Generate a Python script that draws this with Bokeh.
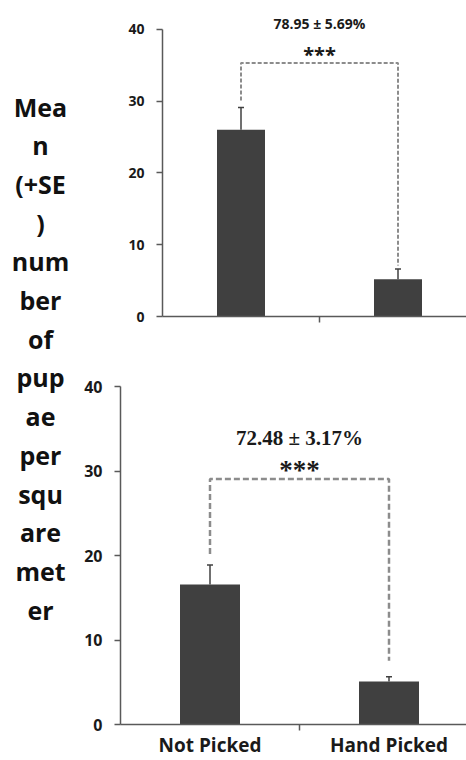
from bokeh.plotting import figure
from bokeh.models import Range1d, FixedTicker, Whisker, TeeHead, ColumnDataSource
from bokeh.layouts import row, column
from bokeh.core.properties import value
from bokeh.embed import file_html
from bokeh.resources import INLINE

# ---------------- data ----------------
categories = ["Not Picked", "Hand Picked"]
cat_pos = [0.5, 1.5]
yticks = [0, 10, 20, 30, 40]

top_means = [26.0, 5.2]
top_se = [3.1, 1.4]
top_bracket_left = 30.1
top_bracket_top = 35.3
top_bracket_right = 7.1
top_pct = "78.95 ± 5.69%"

bot_means = [16.6, 5.1]
bot_se = [2.3, 0.55]
bot_bracket_left = 20.2
bot_bracket_top = 29.1
bot_bracket_right = 7.55
bot_pct = "72.48 ± 3.17%"

sig = "***"
ylabel_lines = ["Mea", "n", "(+SE", ")", "num", "ber", "of", "pup", "ae",
                "per", "squ", "are", "met", "er"]

BAR = "#404040"
AX = "#595959"
DASH = "#8c8c8c"
SANS = "Open Sans"
SERIF = "Liberation Serif"

W = 466
H = 760
LAB_W = 74            # width of the title column
TOP_H = 340           # height of the top chart
TOP_AXIS_X = 162      # y axis x of top chart (page px)
BOT_AXIS_X = 120      # y axis x of bottom chart (page px)


def make_chart(width, height, bl, bt, bb, yend, xend, bar_w, means, se,
               b_left, b_top, b_right, tick_fs, dash, dash_w, labels):
    p = figure(width=width, height=height, output_backend="svg",
               toolbar_location=None, x_range=Range1d(0, xend),
               y_range=Range1d(0, yend), min_border_left=bl,
               min_border_right=0, min_border_top=bt, min_border_bottom=bb,
               frame_align=False)
    p.outline_line_color = None
    p.grid.visible = False

    src = ColumnDataSource(dict(x=cat_pos, top=means,
                                upper=[m + s for m, s in zip(means, se)]))
    p.vbar(x="x", top="top", width=bar_w, source=src, fill_color=BAR,
           line_color=None)
    wh = Whisker(source=src, base="x", lower="top", upper="upper",
                 dimension="height", line_color=BAR, line_width=1.5,
                 lower_head=None,
                 upper_head=TeeHead(size=6, line_color=BAR, line_width=1.5))
    p.add_layout(wh)

    p.line(x=[cat_pos[0], cat_pos[0], cat_pos[1], cat_pos[1]],
           y=[b_left, b_top, b_top, b_right], line_color=DASH,
           line_width=dash_w, line_dash=dash)

    ya = p.yaxis[0]
    ya.ticker = FixedTicker(ticks=yticks, minor_ticks=[])
    ya.bounds = (0, 40)
    ya.axis_line_color = AX
    ya.axis_line_width = 1.5
    ya.major_tick_line_color = AX
    ya.major_tick_line_width = 1.5
    ya.major_tick_in = 0
    ya.major_tick_out = 6
    ya.major_label_standoff = 12
    ya.major_label_text_font = SANS
    ya.major_label_text_font_style = "bold"
    ya.major_label_text_font_size = tick_fs
    ya.major_label_text_color = "#1a1a1a"

    xa = p.xaxis[0]
    xa.ticker = FixedTicker(ticks=cat_pos if labels else [], minor_ticks=[1.0])
    xa.axis_line_color = AX
    xa.axis_line_width = 1.5
    xa.major_tick_line_color = None
    xa.major_tick_out = 0
    xa.major_tick_in = 0
    xa.minor_tick_line_color = AX
    xa.minor_tick_line_width = 1.5
    xa.minor_tick_in = 0
    xa.minor_tick_out = 6
    xa.axis_label_standoff = 0
    if labels:
        xa.major_label_overrides = {cat_pos[0]: categories[0],
                                    cat_pos[1]: categories[1]}
    xa.major_label_standoff = 1
    xa.major_label_text_font = SANS
    xa.major_label_text_font_style = "bold"
    xa.major_label_text_font_size = "19px"
    xa.major_label_text_line_height = 0.8
    xa.major_label_text_color = "#1a1a1a"
    return p


# top chart: y axis at x=162, 157 px per category, y 0 at 316, 7.18 px/unit
top_bl = TOP_AXIS_X - LAB_W
top_bt, top_bb = 2, TOP_H - 316
top = make_chart(W - LAB_W, TOP_H, top_bl, top_bt, top_bb,
                 (316 - top_bt) / 7.18, (W - TOP_AXIS_X) / 157, 48 / 157,
                 top_means, top_se, top_bracket_left, top_bracket_top,
                 top_bracket_right, "14px", "4 2", 2, False)
top.text(x=[1.0], y=[40.85], text=[top_pct], text_align="center",
         text_baseline="middle", text_font=value(SANS),
         text_font_style="bold", text_font_size="14px",
         text_color="#1a1a1a")
top.text(x=[1.0], y=[36.5], text=[sig], text_align="center",
         text_baseline="middle", text_font=value(SANS),
         text_font_style="bold", text_font_size="20px",
         text_color="#1a1a1a")

# bottom chart: y axis at x=120, 179 px per category, y 0 at 728, 8.53 px/unit
bot_h = H - TOP_H
bot_bl = BOT_AXIS_X - LAB_W
bot_bt, bot_bb = 6, H - 728
bot = make_chart(W - LAB_W, bot_h, bot_bl, bot_bt, bot_bb,
                 (bot_h - bot_bt - bot_bb) / 8.53, (W - BOT_AXIS_X) / 179,
                 60 / 179, bot_means, bot_se, bot_bracket_left,
                 bot_bracket_top, bot_bracket_right, "16px", "6 3", 2.5, True)
bot.text(x=[1.0], y=[33.96], text=[bot_pct], text_align="center",
         text_baseline="middle", text_font=value(SERIF),
         text_font_style="bold", text_font_size="21px",
         text_color="#1a1a1a")
bot.text(x=[1.0], y=[30.2], text=[sig], text_align="center",
         text_baseline="middle", text_font=value(SERIF),
         text_font_style="bold", text_font_size="27px",
         text_color="#1a1a1a")

# y-axis title column
lab = figure(width=LAB_W, height=H, output_backend="svg",
             toolbar_location=None, x_range=Range1d(0, LAB_W),
             y_range=Range1d(H, 0), min_border=0, frame_align=False,
             x_axis_location=None, y_axis_location=None)
lab.grid.visible = False
lab.outline_line_color = None
lab.text(x=[40] * len(ylabel_lines),
         y=[106 + i * 38.7 for i in range(len(ylabel_lines))],
         text=ylabel_lines, text_align="center", text_baseline="alphabetic",
         text_font=value(SANS), text_font_style="bold",
         text_font_size="25px", text_color="#111111")

layout = row(lab, column(top, bot, spacing=0), spacing=0)
open("out.html", "w").write(file_html(layout, INLINE))
